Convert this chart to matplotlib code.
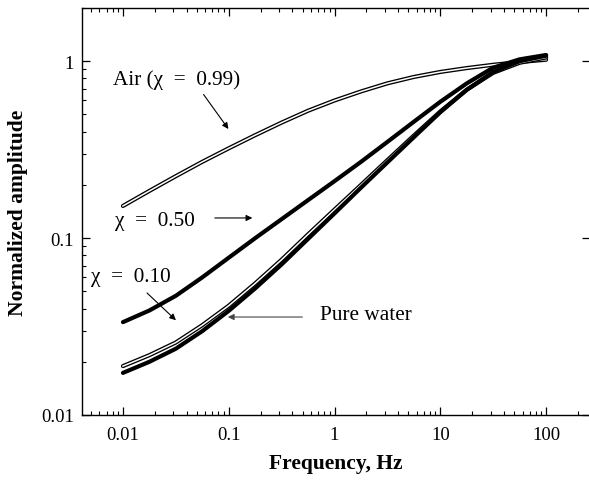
import matplotlib
matplotlib.use("Agg")
import matplotlib.pyplot as plt
from matplotlib.ticker import LogLocator, NullFormatter, FuncFormatter

plt.rcParams['font.family'] = 'serif'
plt.rcParams['font.serif'] = ['Liberation Serif', 'DejaVu Serif']

# frequencies, Hz (quarter-decade steps)
freq = [0.01, 0.0178, 0.0316, 0.0562, 0.1, 0.178, 0.316, 0.562, 1.0,
        1.78, 3.16, 5.62, 10.0, 17.8, 31.6, 56.2, 100.0]

amp_air = [0.152, 0.185, 0.224, 0.27, 0.322, 0.382, 0.45, 0.525, 0.60,
           0.675, 0.75, 0.815, 0.87, 0.915, 0.955, 0.99, 1.02]
amp_050 = [0.0335, 0.039, 0.0472, 0.060, 0.0775, 0.100, 0.128, 0.164, 0.21,
           0.27, 0.35, 0.455, 0.59, 0.75, 0.92, 1.025, 1.085]
amp_010 = [0.0189, 0.0218, 0.0257, 0.0322, 0.0415, 0.0555, 0.0755, 0.105, 0.145,
           0.200, 0.276, 0.38, 0.52, 0.69, 0.86, 0.98, 1.05]
amp_water = [0.0173, 0.0200, 0.0237, 0.0298, 0.0388, 0.052, 0.071, 0.099, 0.138,
             0.193, 0.268, 0.372, 0.515, 0.69, 0.87, 1.0, 1.075]

fig = plt.figure(figsize=(5.89, 4.81), dpi=100)
ax = fig.add_axes([82/589, 65/481, 508/589, 407/481])

# open-marker curves drawn as a hollow tube, filled ones as a thick line
ax.plot(freq, amp_air, color='black', lw=3.0, solid_capstyle='round', solid_joinstyle='round')
ax.plot(freq, amp_air, color='white', lw=1.1, solid_joinstyle='round')
ax.plot(freq, amp_010, color='black', lw=3.0, solid_capstyle='round', solid_joinstyle='round')
ax.plot(freq, amp_010, color='white', lw=1.1, solid_joinstyle='round')
ax.plot(freq, amp_water, color='black', lw=3.0, solid_capstyle='round', solid_joinstyle='round')
ax.plot(freq, amp_050, color='black', lw=3.0, solid_capstyle='round', solid_joinstyle='round')

ax.set_xscale('log')
ax.set_yscale('log')
ax.set_xlim(0.0041, 260)
ax.set_ylim(0.01, 2)

fmt = FuncFormatter(lambda v, p: '%g' % v)
ax.xaxis.set_major_formatter(fmt)
ax.yaxis.set_major_formatter(fmt)
ax.xaxis.set_minor_locator(LogLocator(base=10, subs=range(2, 10), numticks=20))
ax.yaxis.set_minor_locator(LogLocator(base=10, subs=range(2, 10), numticks=20))
ax.xaxis.set_minor_formatter(NullFormatter())
ax.yaxis.set_minor_formatter(NullFormatter())

ax.tick_params(which='major', direction='in', length=6, width=0.9, labelsize=13.5)
ax.tick_params(which='minor', direction='in', length=3, width=0.8)
ax.tick_params(axis='x', which='both', top=True, pad=8)
ax.tick_params(axis='y', which='major', right=True, pad=6)
ax.tick_params(axis='y', which='minor', right=False)
for s in ax.spines.values():
    s.set_linewidth(1.0)

ax.set_xlabel("Frequency, Hz", fontsize=15.5, fontweight='bold', labelpad=7)
ax.set_ylabel("Normalized amplitude", fontsize=15.5, fontweight='bold', labelpad=9)

arrow = dict(arrowstyle='-|>', color='black', lw=0.8, mutation_scale=9)
ax.text(0.0080, 0.79, "Air (χ  =  0.99)", fontsize=15.3, ha='left', va='center')
ax.annotate("", xy=(0.1028, 0.402), xytext=(0.0558, 0.668), arrowprops=arrow)
ax.text(0.0084, 0.125, "χ  =  0.50", fontsize=15.3, ha='left', va='center')
ax.annotate("", xy=(0.1775, 0.13), xytext=(0.0695, 0.13), arrowprops=arrow)
ax.text(0.0050, 0.061, "χ  =  0.10", fontsize=15.3, ha='left', va='center')
ax.annotate("", xy=(0.0331, 0.0335), xytext=(0.01615, 0.0502), arrowprops=arrow)
ax.text(0.731, 0.0372, "Pure water", fontsize=15.3, ha='left', va='center')
ax.annotate("", xy=(0.0923, 0.0358), xytext=(0.527, 0.0358),
            arrowprops=dict(arrowstyle='-|>', color='#444444', lw=0.8, mutation_scale=9))

fig.savefig("out.png", dpi=100)
